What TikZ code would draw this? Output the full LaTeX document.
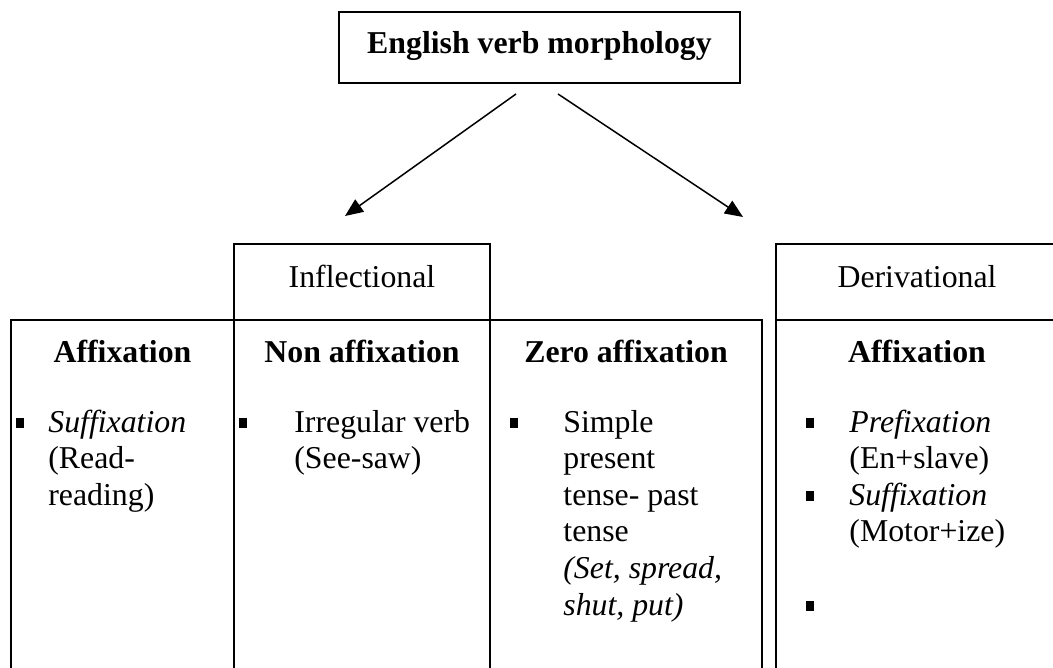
\documentclass[tikz,border=0pt]{standalone}
\usepackage{fontspec}
\setmainfont{Liberation Serif}
\usetikzlibrary{arrows.meta}
\begin{document}
\begin{tikzpicture}[x=0.5pt,y=-0.5pt,
  box/.style={draw, line width=0.75pt, inner sep=0pt, rectangle},
  txt/.style={inner sep=0pt, anchor=base west, font=\fontsize{15.9}{18.3}\selectfont},
  ctr/.style={inner sep=0pt, anchor=base, font=\fontsize{15.9}{18.3}\selectfont},
  hdr/.style={inner sep=0pt, anchor=base, font=\fontsize{15.9}{18.3}\selectfont\bfseries},
  bul/.style={fill=black, inner sep=0pt, minimum width=4pt, minimum height=5pt},
  arr/.style={line width=0.75pt, -{Triangle[length=9pt,width=7.5pt]}}
]
\clip (0,0) rectangle (1053,668);
\fill[white] (0,0) rectangle (1053,668);
% root
\node[box, minimum width=200.5pt, minimum height=35.5pt] (root) at (539.5,47.5) {};
\node[hdr] (roottxt) at (539.5,54) {English verb morphology};
\coordinate (lstart) at (516,94);
\coordinate (lend) at (345,216);
\coordinate (rstart) at (558,94);
\coordinate (rend) at (743,217);
\draw[arr] (lstart) -- (lend);
\draw[arr] (rstart) -- (rend);
% headers
\node[box, minimum width=128pt, minimum height=38pt] (infl) at (362,282) {};
\node[ctr] (infltxt) at (362,287) {Inflectional};
\node[box, minimum width=141pt, minimum height=38pt] (deriv) at (917,282) {};
\node[ctr] (derivtxt) at (917,287) {Derivational};
% cells
\node[box, minimum width=111.5pt, minimum height=190pt] (c1) at (122.5,510) {};
\node[box, minimum width=128pt, minimum height=190pt] (c2) at (362,510) {};
\node[box, minimum width=136pt, minimum height=190pt] (c3) at (626,510) {};
\node[box, minimum width=141pt, minimum height=190pt] (c4) at (917,510) {};
\node[hdr] (h1) at (122.5,362) {Affixation};
\node[hdr] (h2) at (362,362) {Non affixation};
\node[hdr] (h3) at (626,362) {Zero affixation};
\node[hdr] (h4) at (917,362) {Affixation};
% column 1
\node[bul] (b1a) at (20,423) {};
\node[txt] (t1a) at (48,432) {\textit{Suffixation}};
\node[txt] (t1b) at (48,468.6) {(Read-};
\node[txt] (t1c) at (48,505.2) {reading)};
% column 2
\node[bul] (b2a) at (243,423) {};
\node[txt] (t2a) at (294,432) {Irregular verb};
\node[txt] (t2b) at (294,468.6) {(See-saw)};
% column 3
\node[bul] (b3a) at (514,423) {};
\node[txt] (t3a) at (563,432) {Simple};
\node[txt] (t3b) at (563,468.6) {present};
\node[txt] (t3c) at (563,505.2) {tense- past};
\node[txt] (t3d) at (563,541.8) {tense};
\node[txt] (t3e) at (563,578.4) {\textit{(Set, spread,}};
\node[txt] (t3f) at (563,615) {\textit{shut, put)}};
% column 4
\node[bul] (b4a) at (810,423) {};
\node[bul] (b4b) at (810,496.2) {};
\node[bul] (b4c) at (810,606) {};
\node[txt] (t4a) at (849,432) {\textit{Prefixation}};
\node[txt] (t4b) at (849,468.6) {(En+slave)};
\node[txt] (t4c) at (849,505.2) {\textit{Suffixation}};
\node[txt] (t4d) at (849,541.8) {(Motor+ize)};
\end{tikzpicture}
\end{document}
